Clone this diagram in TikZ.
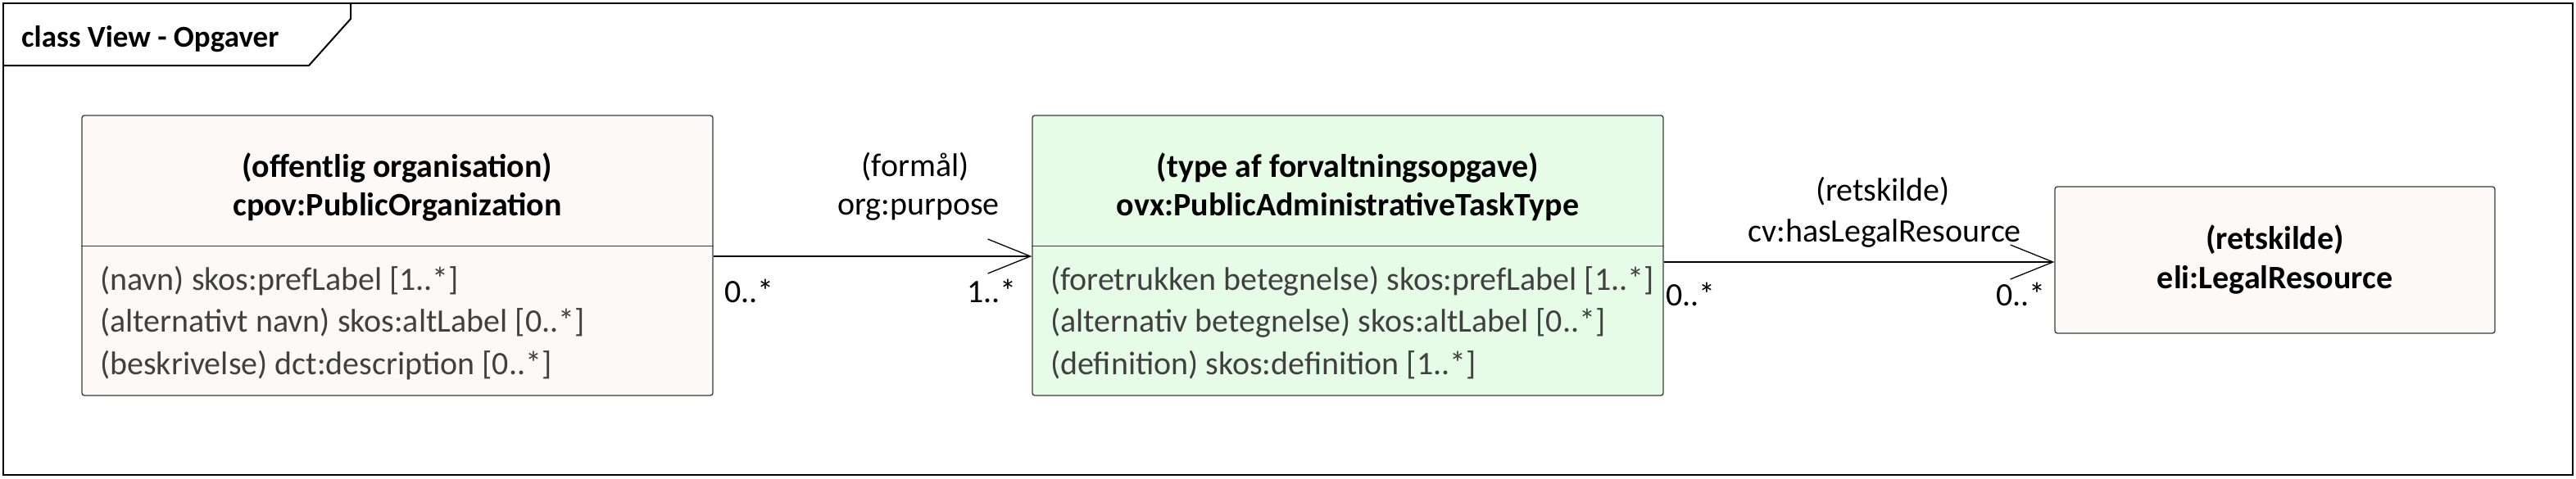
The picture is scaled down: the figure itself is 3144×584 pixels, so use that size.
\documentclass[tikz,border=0pt]{standalone}
\usepackage{fontspec}
\setmainfont{Carlito}
\usetikzlibrary{arrows.meta}
\definecolor{creamfill}{HTML}{FCF9F7}
\definecolor{greenfill}{HTML}{E6FCE6}
\definecolor{boxline}{HTML}{3A3A3A}
\definecolor{attrtext}{HTML}{404040}
\tikzset{
  cls/.style={draw=boxline, line width=1.3pt, rounded corners=3pt, inner sep=0pt},
  ttl/.style={font=\fontsize{40}{48}\selectfont\bfseries, inner sep=0pt, text=black, anchor=base},
  attr/.style={font=\fontsize{40}{48}\selectfont, inner sep=0pt, text=attrtext, anchor=base west},
  lbl/.style={font=\fontsize{40}{48}\selectfont, inner sep=0pt, text=black, anchor=base},
  assoc/.style={draw=black, line width=1.3pt, -{Straight Barb[length=52pt, width=42pt, line width=1.3pt]}},
  framestyle/.style={draw=black, line width=2pt},
}
\begin{document}
\begin{tikzpicture}[x=1pt, y=-1pt]
\useasboundingbox (0,0) rectangle (3144,584);
% frame
\draw[framestyle] (4,4) rectangle (3140,580);
\draw[framestyle] (4,80) -- (377,80) -- (428,23) -- (428,4);
\node[font=\fontsize{37}{44}\selectfont\bfseries, anchor=base west, inner sep=0pt] (title) at (26,57) {class View - Opgaver};

% boxes
\node[cls, fill=creamfill, minimum width=770pt, minimum height=342pt] (b1) at (485,312) {};
\node[cls, fill=greenfill, minimum width=770pt, minimum height=342pt] (b2) at (1645,312) {};
\node[cls, fill=creamfill, minimum width=537pt, minimum height=179pt] (b3) at (2776.5,317.5) {};
\draw[boxline, line width=1.3pt] ([yshift=-160pt]b1.north west) -- ([yshift=-160pt]b1.north east);
\draw[boxline, line width=1.3pt] ([yshift=-160pt]b2.north west) -- ([yshift=-160pt]b2.north east);

% box 1 text
\node[ttl] (b1t1) at (485,216) {(offentlig organisation)};
\node[ttl] (b1t2) at (485,263) {cpov:PublicOrganization};
\node[attr] (b1a1) at (122,354) {(navn) skos:prefLabel [1..*]};
\node[attr] (b1a2) at (122,405.5) {(alternativt navn) skos:altLabel [0..*]};
\node[attr] (b1a3) at (122,457) {(beskrivelse) dct:description [0..*]};

% box 2 text
\node[ttl] (b2t1) at (1645,216) {(type af forvaltningsopgave)};
\node[ttl] (b2t2) at (1645,263) {ovx:PublicAdministrativeTaskType};
\node[attr] (b2a1) at (1282,354) {(foretrukken betegnelse) skos:prefLabel [1..*]};
\node[attr] (b2a2) at (1282,405.5) {(alternativ betegnelse) skos:altLabel [0..*]};
\node[attr] (b2a3) at (1282,457) {(definition) skos:definition [1..*]};

% box 3 text
\node[ttl] (b3t1) at (2776.5,304) {(retskilde)};
\node[ttl] (b3t2) at (2776.5,352) {eli:LegalResource};

% connectors
\coordinate (y1) at (0,313);
\coordinate (y2) at (0,320);
\draw[assoc] (b1.east |- y1) -- (b2.west |- y1);
\draw[assoc] (b2.east |- y2) -- (b3.west |- y2);

% connector labels
\node[lbl] (c1n1) at (1117,215) {(formål)};
\node[lbl] (c1n2) at (1121,262) {org:purpose};
\node[lbl, anchor=base west] (c1m1) at (884,369) {0..*};
\node[lbl, anchor=base east] (c1m2) at (1241,369) {1..*};
\node[lbl] (c2n1) at (2298,245) {(retskilde)};
\node[lbl] (c2n2) at (2300,295) {cv:hasLegalResource};
\node[lbl, anchor=base west] (c2m1) at (2033,373) {0..*};
\node[lbl, anchor=base east] (c2m2) at (2497,373) {0..*};
\end{tikzpicture}
\end{document}
